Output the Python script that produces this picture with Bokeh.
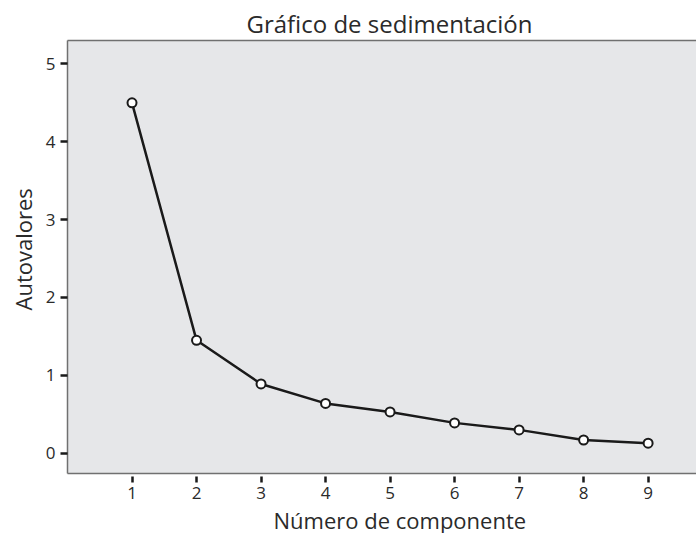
from bokeh.plotting import figure
from bokeh.models import Range1d, FixedTicker, LinearAxis, Title, ColumnDataSource
from bokeh.embed import file_html
from bokeh.resources import INLINE

# Data
components = [1, 2, 3, 4, 5, 6, 7, 8, 9]
eigenvalues = [4.50, 1.45, 0.89, 0.64, 0.53, 0.39, 0.30, 0.17, 0.13]
x_ticks = [1, 2, 3, 4, 5, 6, 7, 8, 9]
y_ticks = [0, 1, 2, 3, 4, 5]
title_text = "Gráfico de sedimentación"
x_label = "Número de componente"
y_label = "Autovalores"

FONT = "Open Sans"
TEXT = "#2a2a2a"
BORDER = "#707070"

p = figure(
    frame_width=629, frame_height=433,
    min_border_left=67, min_border_right=0, min_border_top=40, min_border_bottom=60,
    x_range=Range1d(0, 9.75), y_range=Range1d(-0.26, 5.30),
    output_backend="svg", toolbar_location=None, title=None,
    x_axis_location=None, y_axis_location=None,
)
p.background_fill_color = "#e6e7e9"
p.border_fill_color = "white"
p.outline_line_color = None
p.grid.visible = False

xa = LinearAxis(ticker=FixedTicker(ticks=x_ticks))
ya = LinearAxis(ticker=FixedTicker(ticks=y_ticks))
for ax in (xa, ya):
    ax.minor_tick_line_color = None
    ax.axis_line_color = BORDER
    ax.axis_line_width = 1.5
    ax.major_tick_line_color = "#1a1a1a"
    ax.major_tick_line_width = 2.5
    ax.major_label_text_font = FONT
    ax.major_label_text_font_size = "17px"
    ax.major_label_text_color = TEXT
xa.major_tick_in = -3
xa.major_tick_out = 9
xa.major_label_standoff = 4
ya.major_tick_in = 0
ya.major_tick_out = 7
ya.major_label_standoff = 5
p.add_layout(xa, "below")
p.add_layout(ya, "left")

top = LinearAxis(ticker=FixedTicker(ticks=[]))
top.axis_line_color = BORDER
top.axis_line_width = 1.5
top.major_tick_line_color = None
top.minor_tick_line_color = None
top.major_label_text_alpha = 0
p.add_layout(top, "above")

src = ColumnDataSource(dict(x=components, y=eigenvalues))
p.line("x", "y", source=src, line_color="#1a1a1a", line_width=2.5)
p.scatter("x", "y", source=src, size=9, marker="circle",
          fill_color="white", line_color="#1a1a1a", line_width=2)

p.add_layout(Title(text=title_text, align="left", offset=179, text_font=FONT,
                   text_font_size="24px", text_color=TEXT, text_font_style="normal",
                   standoff=2), "above")
p.add_layout(Title(text=x_label, align="left", offset=206, text_font=FONT,
                   text_font_size="22px", text_color=TEXT, text_font_style="normal",
                   standoff=2), "below")
p.add_layout(Title(text=y_label, align="left", offset=163, text_font=FONT,
                   text_font_size="22px", text_color=TEXT, text_font_style="normal",
                   standoff=10), "left")

open("out.html", "w").write(file_html(p, INLINE))
